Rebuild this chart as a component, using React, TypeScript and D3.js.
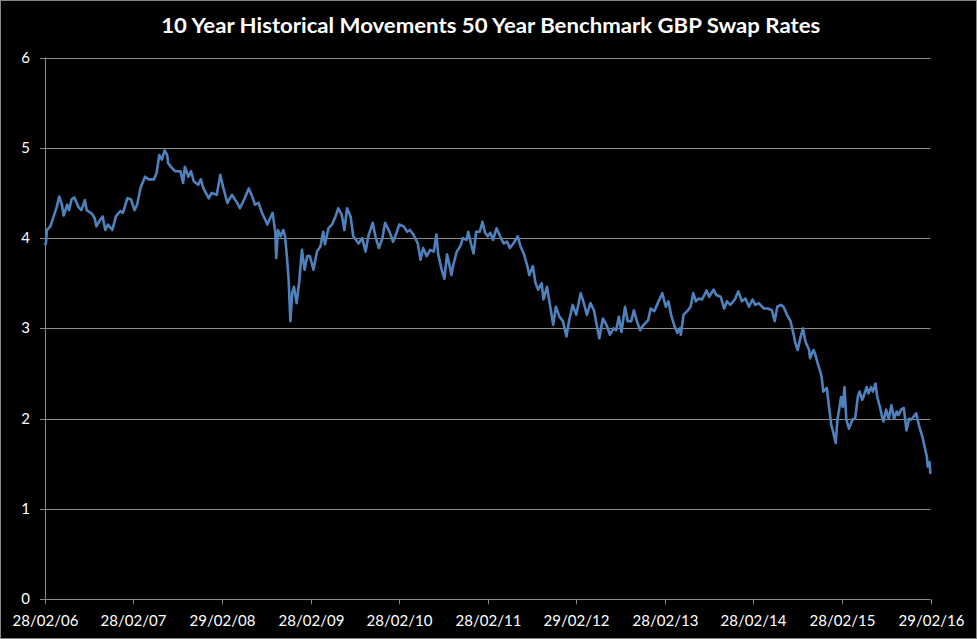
import React from "react";
import * as d3 from "d3";

const title = "10 Year Historical Movements 50 Year Benchmark GBP Swap Rates";

const tickDates = ["2006-02-28", "2007-02-28", "2008-02-29", "2009-02-28", "2010-02-28", "2011-02-28", "2012-02-29", "2013-02-28", "2014-02-28", "2015-02-28", "2016-02-29"];
const tickLabels = ["28/02/06", "28/02/07", "29/02/08", "28/02/09", "28/02/10", "28/02/11", "29/02/12", "28/02/13", "28/02/14", "28/02/15", "29/02/16"];
const yTicks = [0, 1, 2, 3, 4, 5, 6];

// decimal years
const dataYears = [
  2006.16, 2006.17, 2006.18, 2006.22, 2006.29, 2006.32, 2006.35, 2006.37, 2006.41, 2006.43, 2006.46, 2006.49, 2006.54, 2006.57, 2006.61, 2006.63, 2006.69, 2006.72, 2006.74, 2006.78, 2006.81, 2006.84, 2006.87, 2006.92, 2006.96,
  2007.01, 2007.04, 2007.09, 2007.13, 2007.17, 2007.20, 2007.24, 2007.29, 2007.33, 2007.39, 2007.42, 2007.45, 2007.48, 2007.51, 2007.54, 2007.55, 2007.59, 2007.63, 2007.69, 2007.72, 2007.74, 2007.78, 2007.81, 2007.84, 2007.89, 2007.92, 2007.95,
  2008.01, 2008.04, 2008.10, 2008.14, 2008.17, 2008.22, 2008.27, 2008.33, 2008.36, 2008.41, 2008.46, 2008.50, 2008.53, 2008.57, 2008.61, 2008.67, 2008.70, 2008.73, 2008.76, 2008.77, 2008.79, 2008.82, 2008.85, 2008.87, 2008.89, 2008.91, 2008.93, 2008.95, 2008.97,
  2009.00, 2009.03, 2009.06, 2009.09, 2009.12, 2009.15, 2009.19, 2009.23, 2009.27, 2009.30, 2009.32, 2009.36, 2009.40, 2009.44, 2009.47, 2009.51, 2009.54, 2009.57, 2009.61, 2009.64, 2009.70, 2009.74, 2009.78, 2009.81, 2009.86, 2009.89, 2009.93, 2009.97,
  2010.00, 2010.05, 2010.09, 2010.13, 2010.16, 2010.21, 2010.25, 2010.28, 2010.32, 2010.37, 2010.40, 2010.43, 2010.47, 2010.51, 2010.55, 2010.58, 2010.60, 2010.64, 2010.67, 2010.70, 2010.73, 2010.75, 2010.77, 2010.81, 2010.85, 2010.88, 2010.92, 2010.94, 2010.97,
  2011.00, 2011.03, 2011.07, 2011.10, 2011.13, 2011.16, 2011.19, 2011.22, 2011.26, 2011.30, 2011.34, 2011.38, 2011.41, 2011.45, 2011.50, 2011.53, 2011.57, 2011.60, 2011.63, 2011.67, 2011.70, 2011.73, 2011.77, 2011.79, 2011.83, 2011.87, 2011.90, 2011.93, 2011.97,
  2012.01, 2012.05, 2012.08, 2012.12, 2012.16, 2012.21, 2012.24, 2012.28, 2012.32, 2012.36, 2012.39, 2012.42, 2012.46, 2012.50, 2012.54, 2012.58, 2012.61, 2012.64, 2012.67, 2012.71, 2012.74, 2012.78, 2012.81, 2012.85, 2012.88, 2012.92, 2012.97,
  2013.00, 2013.04, 2013.08, 2013.13, 2013.17, 2013.20, 2013.23, 2013.27, 2013.30, 2013.33, 2013.34, 2013.37, 2013.42, 2013.45, 2013.48, 2013.51, 2013.54, 2013.58, 2013.63, 2013.66, 2013.71, 2013.74, 2013.79, 2013.83, 2013.86, 2013.90, 2013.95, 2013.99,
  2014.03, 2014.07, 2014.11, 2014.15, 2014.18, 2014.22, 2014.28, 2014.33, 2014.37, 2014.40, 2014.43, 2014.47, 2014.50, 2014.54, 2014.58, 2014.62, 2014.63, 2014.66, 2014.69, 2014.72, 2014.75, 2014.79, 2014.80, 2014.82, 2014.84, 2014.86, 2014.89, 2014.91, 2014.93, 2014.95, 2014.99,
  2015.01, 2015.04, 2015.06, 2015.09, 2015.11, 2015.14, 2015.15, 2015.17, 2015.19, 2015.21, 2015.24, 2015.28, 2015.31, 2015.34, 2015.36, 2015.39, 2015.41, 2015.44, 2015.46, 2015.49, 2015.51, 2015.54, 2015.56, 2015.59, 2015.61, 2015.63, 2015.66, 2015.69, 2015.72, 2015.75, 2015.78, 2015.80, 2015.83, 2015.86, 2015.89, 2015.92, 2015.94, 2015.97,
  2016.00, 2016.03, 2016.07, 2016.09, 2016.12, 2016.13, 2016.15, 2016.16,
];

const dataValues = [
  3.92, 3.95, 4.09, 4.13, 4.34, 4.46, 4.37, 4.25, 4.37, 4.31, 4.43, 4.45, 4.34, 4.31, 4.42, 4.31, 4.27, 4.22, 4.13, 4.20, 4.24, 4.09, 4.15, 4.09, 4.24,
  4.30, 4.28, 4.44, 4.43, 4.31, 4.37, 4.56, 4.68, 4.65, 4.65, 4.72, 4.92, 4.87, 4.97, 4.92, 4.83, 4.78, 4.74, 4.74, 4.61, 4.79, 4.68, 4.74, 4.63, 4.59, 4.65, 4.55,
  4.44, 4.50, 4.48, 4.70, 4.57, 4.39, 4.48, 4.39, 4.33, 4.43, 4.55, 4.46, 4.37, 4.39, 4.28, 4.15, 4.22, 4.28, 4.06, 3.78, 4.09, 4.02, 4.09, 4.02, 3.80, 3.54, 3.08, 3.39, 3.46,
  3.28, 3.52, 3.87, 3.65, 3.80, 3.80, 3.65, 3.85, 3.91, 4.07, 3.93, 4.11, 4.15, 4.24, 4.33, 4.26, 4.09, 4.33, 4.24, 4.02, 3.94, 4.00, 3.85, 4.02, 4.17, 4.02, 3.89, 4.00,
  4.17, 4.07, 3.96, 4.06, 4.15, 4.13, 4.07, 4.09, 4.04, 3.94, 3.76, 3.89, 3.80, 3.87, 3.85, 4.04, 3.82, 3.65, 3.55, 3.82, 3.69, 3.59, 3.70, 3.85, 3.91, 4.00, 3.98, 4.07, 3.94,
  3.83, 4.07, 4.07, 4.18, 4.06, 4.02, 4.06, 3.98, 4.11, 4.02, 3.94, 3.96, 3.89, 3.94, 4.02, 3.91, 3.82, 3.72, 3.59, 3.69, 3.50, 3.43, 3.50, 3.32, 3.46, 3.22, 3.04, 3.24, 3.13,
  3.08, 2.91, 3.09, 3.26, 3.15, 3.39, 3.30, 3.15, 3.28, 3.20, 3.04, 2.89, 3.11, 3.04, 2.93, 3.00, 2.98, 3.13, 2.96, 3.24, 3.08, 3.08, 3.20, 3.06, 2.98, 3.04, 3.09,
  3.22, 3.19, 3.28, 3.39, 3.24, 3.30, 3.15, 3.02, 2.95, 3.00, 2.93, 3.15, 3.20, 3.24, 3.39, 3.30, 3.33, 3.32, 3.42, 3.35, 3.43, 3.37, 3.35, 3.22, 3.30, 3.26, 3.32, 3.41,
  3.30, 3.33, 3.24, 3.32, 3.26, 3.28, 3.22, 3.22, 3.20, 3.08, 3.24, 3.26, 3.24, 3.15, 3.08, 2.91, 2.85, 2.76, 2.89, 3.00, 2.85, 2.76, 2.67, 2.72, 2.76, 2.71, 2.60, 2.54, 2.47, 2.30, 2.34,
  2.17, 1.93, 1.86, 1.73, 1.99, 2.17, 2.24, 2.13, 2.35, 1.99, 1.89, 1.99, 2.00, 2.24, 2.30, 2.21, 2.26, 2.35, 2.28, 2.35, 2.30, 2.39, 2.24, 2.13, 2.04, 1.97, 2.10, 2.00, 2.15, 2.00, 2.08, 2.04, 2.10, 2.12, 1.87, 2.00, 1.99, 2.02,
  2.06, 1.93, 1.80, 1.71, 1.58, 1.47, 1.52, 1.39,
];

const W = 977;
const H = 639;
const M = { left: 45, right: 930.5, top: 57.5, bottom: 599.3 };

function decimalToDate(t: number): Date {
  const y = Math.floor(t);
  const start = Date.UTC(y, 0, 1);
  const end = Date.UTC(y + 1, 0, 1);
  return new Date(start + (t - y) * (end - start));
}

export default function App() {
  const x = d3
    .scaleUtc()
    .domain([new Date(tickDates[0] + "T00:00:00Z"), new Date(tickDates[tickDates.length - 1] + "T00:00:00Z")])
    .range([M.left, M.right]);
  const y = d3.scaleLinear().domain([0, 6]).range([M.bottom, M.top]);

  const pts = dataYears.map((t, i) => ({ d: decimalToDate(t), v: dataValues[i] }));
  const line = d3
    .line<{ d: Date; v: number }>()
    .x((p) => x(p.d))
    .y((p) => y(p.v));

  const font = "Lato, 'Open Sans', 'Liberation Sans', sans-serif";
  const grid = "#8a8a8a";

  return (
    <svg
      width={W}
      height={H}
      style={{ position: "absolute", left: 0, top: 0, background: "#000" }}
      fontFamily={font}
    >
      <rect x={0} y={0} width={W} height={H} fill="#000" />
      <rect x={0.5} y={0.5} width={W - 1} height={H - 1} fill="none" stroke="#868686" strokeWidth={1} />
      <text
        x={(M.left + M.right) / 2 + 3}
        y={33}
        fill="#fff"
        fontSize={21.5}
        fontWeight="bold"
        textAnchor="middle"
        textLength={659}
        lengthAdjust="spacingAndGlyphs"
      >
        {title}
      </text>
      {yTicks.map((t) => (
        <g key={t}>
          {t > 0 && (
            <line x1={M.left} x2={M.right} y1={Math.round(y(t)) + 0.5} y2={Math.round(y(t)) + 0.5} stroke={grid} strokeWidth={1} />
          )}
          <line x1={M.left - 5} x2={M.left} y1={Math.round(y(t)) + 0.5} y2={Math.round(y(t)) + 0.5} stroke={grid} strokeWidth={1} />
          <text x={30} y={y(t) + 5} fill="#fff" fontSize={15} textAnchor="end">
            {t}
          </text>
        </g>
      ))}
      <line x1={M.left + 0.5} x2={M.left + 0.5} y1={M.top} y2={M.bottom} stroke={grid} strokeWidth={1} />
      <line x1={M.left} x2={M.right} y1={Math.round(M.bottom) + 0.5} y2={Math.round(M.bottom) + 0.5} stroke={grid} strokeWidth={1} />
      {tickDates.map((td, i) => {
        const px = Math.round(x(new Date(td + "T00:00:00Z"))) + 0.5;
        return (
          <g key={td}>
            <line x1={px} x2={px} y1={M.bottom} y2={M.bottom + 5} stroke={grid} strokeWidth={1} />
            <text x={px} y={626} fill="#fff" fontSize={15} textAnchor="middle">
              {tickLabels[i]}
            </text>
          </g>
        );
      })}
      <path d={line(pts) || ""} fill="none" stroke="#4f81bd" strokeWidth={2.6} strokeLinejoin="round" />
    </svg>
  );
}
